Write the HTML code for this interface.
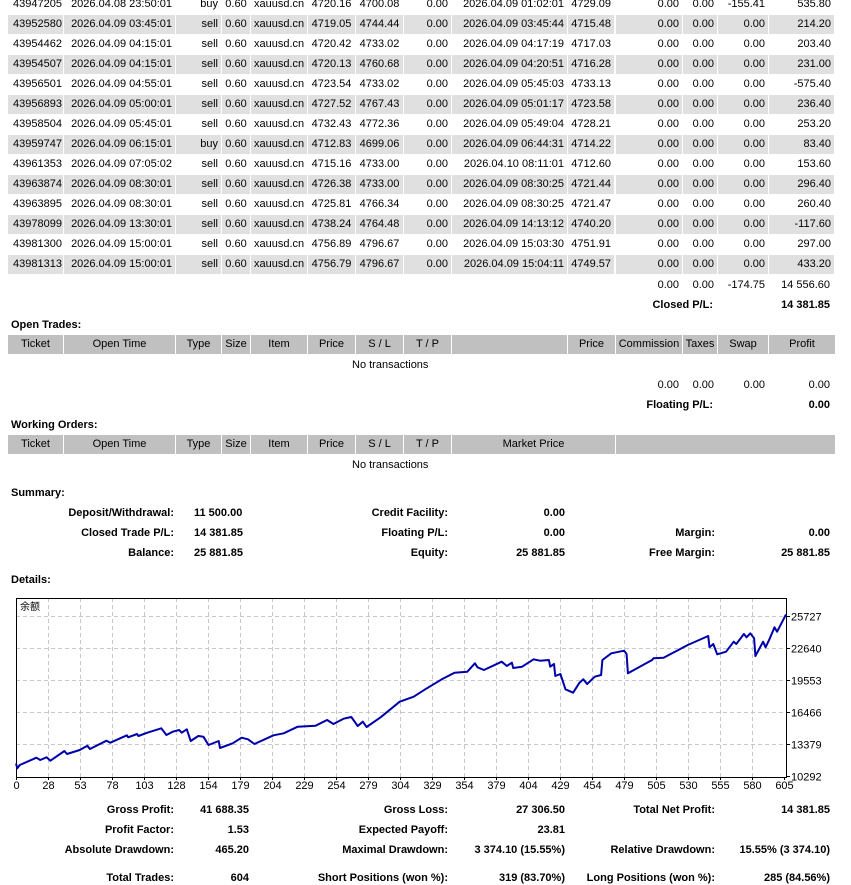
<!DOCTYPE html>
<html><head><meta charset="utf-8">
<style>
*{margin:0;padding:0;box-sizing:border-box}
body{width:851px;height:885px;position:relative;background:#fff;font-family:"Liberation Sans","Noto Sans CJK SC",sans-serif;font-size:11px;color:#000;overflow:hidden}
.t{position:absolute;height:14px;line-height:14px;white-space:nowrap}
.b{font-weight:bold}
.c{position:absolute;height:19px;line-height:19px;white-space:nowrap;overflow:hidden;padding:0 3px}
svg{position:absolute;left:0;top:0}
</style></head><body>
<div id="trades"></div>

<div class="t" style="top:278px;right:172px">0.00</div>
<div class="t" style="top:278px;right:137px">0.00</div>
<div class="t" style="top:278px;right:86px">-174.75</div>
<div class="t" style="top:278px;right:21px">14 556.60</div>
<div class="t b" style="top:298px;right:138px">Closed P/L:</div>
<div class="t b" style="top:298px;right:21px">14 381.85</div>

<div class="t b" style="top:318px;left:11px">Open Trades:</div>
<div id="hdr1"></div>
<div class="t" style="top:358px;left:352px">No transactions</div>
<div class="t" style="top:378px;right:172px">0.00</div>
<div class="t" style="top:378px;right:137px">0.00</div>
<div class="t" style="top:378px;right:86px">0.00</div>
<div class="t" style="top:378px;right:21px">0.00</div>
<div class="t b" style="top:398px;right:138px">Floating P/L:</div>
<div class="t b" style="top:398px;right:21px">0.00</div>

<div class="t b" style="top:418px;left:11px">Working Orders:</div>
<div id="hdr2"></div>
<div class="t" style="top:458px;left:352px">No transactions</div>

<div class="t b" style="top:486px;left:11px">Summary:</div>
<div class="t b" style="top:506px;right:677px">Deposit/Withdrawal:</div>
<div class="t b" style="top:506px;left:194px">11 500.00</div>
<div class="t b" style="top:506px;right:403px">Credit Facility:</div>
<div class="t b" style="top:506px;right:286px">0.00</div>
<div class="t b" style="top:526px;right:677px">Closed Trade P/L:</div>
<div class="t b" style="top:526px;left:194px">14 381.85</div>
<div class="t b" style="top:526px;right:403px">Floating P/L:</div>
<div class="t b" style="top:526px;right:286px">0.00</div>
<div class="t b" style="top:526px;right:136px">Margin:</div>
<div class="t b" style="top:526px;right:21px">0.00</div>
<div class="t b" style="top:546px;right:677px">Balance:</div>
<div class="t b" style="top:546px;left:194px">25 881.85</div>
<div class="t b" style="top:546px;right:403px">Equity:</div>
<div class="t b" style="top:546px;right:286px">25 881.85</div>
<div class="t b" style="top:546px;right:136px">Free Margin:</div>
<div class="t b" style="top:546px;right:21px">25 881.85</div>

<div class="t b" style="top:573px;left:11px">Details:</div>

<div class="t b" style="top:803px;right:677px">Gross Profit:</div>
<div class="t b" style="top:803px;right:602px">41 688.35</div>
<div class="t b" style="top:803px;right:403px">Gross Loss:</div>
<div class="t b" style="top:803px;right:286px">27 306.50</div>
<div class="t b" style="top:803px;right:136px">Total Net Profit:</div>
<div class="t b" style="top:803px;right:21px">14 381.85</div>
<div class="t b" style="top:823px;right:677px">Profit Factor:</div>
<div class="t b" style="top:823px;right:602px">1.53</div>
<div class="t b" style="top:823px;right:403px">Expected Payoff:</div>
<div class="t b" style="top:823px;right:286px">23.81</div>
<div class="t b" style="top:843px;right:677px">Absolute Drawdown:</div>
<div class="t b" style="top:843px;right:602px">465.20</div>
<div class="t b" style="top:843px;right:403px">Maximal Drawdown:</div>
<div class="t b" style="top:843px;right:286px">3 374.10 (15.55%)</div>
<div class="t b" style="top:843px;right:136px">Relative Drawdown:</div>
<div class="t b" style="top:843px;right:21px">15.55% (3 374.10)</div>
<div class="t b" style="top:871px;right:677px">Total Trades:</div>
<div class="t b" style="top:871px;right:602px">604</div>
<div class="t b" style="top:871px;right:403px">Short Positions (won %):</div>
<div class="t b" style="top:871px;right:286px">319 (83.70%)</div>
<div class="t b" style="top:871px;right:136px">Long Positions (won %):</div>
<div class="t b" style="top:871px;right:21px">285 (84.56%)</div>

<svg id="chart" width="851" height="885"></svg>

<script>
// ---- chart data ----
const tradeIndex = [0,1,3,16,19,24,27,38,40,50,56,58,71,74,87,88,95,96,103,114,118,123,128,130,134,137,143,147,151,159,160,170,177,182,187,202,210,221,235,244,249,257,263,268,272,275,286,301,312,321,334,344,354,360,362,367,381,385,389,390,397,406,411,418,419,422,423,427,431,437,442,445,448,454,459,460,467,477,479,480,499,500,508,527,543,544,547,550,557,563,565,571,573,576,579,580,586,588,591,595,597,604];
const balance = [11500,11035,11353,12057,11836,12096,11768,12704,12414,12800,13215,12897,13697,13504,14218,14025,14344,14151,14469,14894,14247,14566,14730,14469,14797,13668,14151,14083,13283,13668,12993,13447,13987,13832,13379,14218,14411,15048,15144,15694,15308,15820,15984,15116,15530,15019,15955,17460,17942,18656,19621,20257,20354,21164,20778,20518,21319,20904,21222,20711,20836,21550,21415,21483,20836,21097,19939,20132,18656,18328,19293,19621,19167,19872,20035,21483,22129,22380,22061,20199,21483,21647,21700,22930,23798,22708,23026,22032,22283,23248,23026,23991,23672,24058,23576,21868,23248,22708,23479,24637,24213,25881];
const yTicks = [10292,13379,16466,19553,22640,25727];
const xTickLabels = ["0","28","53","78","103","128","154","179","204","229","254","279","304","329","354","379","404","429","454","479","505","530","555","580","605"];
const seriesTitle = "余额";

// ---- table data ----
const rows = [
["43947205","2026.04.08 23:50:01","buy","0.60","xauusd.cn","4720.16","4700.08","0.00","2026.04.09 01:02:01","4729.09","0.00","0.00","-155.41","535.80"],
["43952580","2026.04.09 03:45:01","sell","0.60","xauusd.cn","4719.05","4744.44","0.00","2026.04.09 03:45:44","4715.48","0.00","0.00","0.00","214.20"],
["43954462","2026.04.09 04:15:01","sell","0.60","xauusd.cn","4720.42","4733.02","0.00","2026.04.09 04:17:19","4717.03","0.00","0.00","0.00","203.40"],
["43954507","2026.04.09 04:15:01","sell","0.60","xauusd.cn","4720.13","4760.68","0.00","2026.04.09 04:20:51","4716.28","0.00","0.00","0.00","231.00"],
["43956501","2026.04.09 04:55:01","sell","0.60","xauusd.cn","4723.54","4733.02","0.00","2026.04.09 05:45:03","4733.13","0.00","0.00","0.00","-575.40"],
["43956893","2026.04.09 05:00:01","sell","0.60","xauusd.cn","4727.52","4767.43","0.00","2026.04.09 05:01:17","4723.58","0.00","0.00","0.00","236.40"],
["43958504","2026.04.09 05:45:01","sell","0.60","xauusd.cn","4732.43","4772.36","0.00","2026.04.09 05:49:04","4728.21","0.00","0.00","0.00","253.20"],
["43959747","2026.04.09 06:15:01","buy","0.60","xauusd.cn","4712.83","4699.06","0.00","2026.04.09 06:44:31","4714.22","0.00","0.00","0.00","83.40"],
["43961353","2026.04.09 07:05:02","sell","0.60","xauusd.cn","4715.16","4733.00","0.00","2026.04.10 08:11:01","4712.60","0.00","0.00","0.00","153.60"],
["43963874","2026.04.09 08:30:01","sell","0.60","xauusd.cn","4726.38","4733.00","0.00","2026.04.09 08:30:25","4721.44","0.00","0.00","0.00","296.40"],
["43963895","2026.04.09 08:30:01","sell","0.60","xauusd.cn","4725.81","4766.34","0.00","2026.04.09 08:30:25","4721.47","0.00","0.00","0.00","260.40"],
["43978099","2026.04.09 13:30:01","sell","0.60","xauusd.cn","4738.24","4764.48","0.00","2026.04.09 14:13:12","4740.20","0.00","0.00","0.00","-117.60"],
["43981300","2026.04.09 15:00:01","sell","0.60","xauusd.cn","4756.89","4796.67","0.00","2026.04.09 15:03:30","4751.91","0.00","0.00","0.00","297.00"],
["43981313","2026.04.09 15:00:01","sell","0.60","xauusd.cn","4756.79","4796.67","0.00","2026.04.09 15:04:11","4749.57","0.00","0.00","0.00","433.20"]
];
const cols=[[8,63,"left"],[64,175,"right"],[176,221,"right"],[222,250,"center"],[251,307,"center"],[308,355,"center"],[356,403,"center"],[404,451,"right"],[452,567,"right"],[568,614,"right"],[616,682,"right"],[683,717,"right"],[718,768,"right"],[769,834,"right"]];

function cell(parent,l,r,top,txt,align,bg){
  const d=document.createElement('div');
  d.className='c';
  d.style.left=l+'px';d.style.width=(r-l)+'px';d.style.top=top+'px';
  d.style.textAlign=align;
  if(bg)d.style.background=bg;
  d.textContent=txt;
  parent.appendChild(d);
  return d;
}
const tb=document.getElementById('trades');
rows.forEach((row,i)=>{
  const top=-5+20*i;
  row.forEach((v,j)=>{
    const c=cols[j];
    const el=cell(tb,c[0],c[1],top,v,c[2],i%2?'#e0e0e0':null);
    if(j==0)el.style.paddingLeft='5px';
    
    
  });
});
const h1=[[8,63,"Ticket"],[64,175,"Open Time"],[176,221,"Type"],[222,250,"Size"],[251,307,"Item"],[308,355,"Price"],[356,403,"S / L"],[404,451,"T / P"],[452,567,""],[568,615,"Price"],[616,682,"Commission"],[683,717,"Taxes"],[718,768,"Swap"],[769,835,"Profit"]];
const h2=[[8,63,"Ticket"],[64,175,"Open Time"],[176,221,"Type"],[222,250,"Size"],[251,307,"Item"],[308,355,"Price"],[356,403,"S / L"],[404,451,"T / P"],[452,615,"Market Price"],[616,835,""]];
const hd1=document.getElementById('hdr1');
h1.forEach(h=>{
  const el=cell(hd1,h[0],h[1],335,h[2],'center','#c0c0c0');
  el.style.padding='0';
  
  
});
const hd2=document.getElementById('hdr2');
h2.forEach(h=>{
  const el=cell(hd2,h[0],h[1],435,h[2],'center','#c0c0c0');
  el.style.padding='0';
  
  
});

// ---- chart ----
const NS='http://www.w3.org/2000/svg';
const svg=document.getElementById('chart');
const L=16,R=786,T=598,B=777;
const yMin=10292,yMax=25727,yTop=616,yBot=776;
function yScale(v){return yBot-(v-yMin)/(yMax-yMin)*(yBot-yTop);}
function xScale(i){return L+i/604*(R-L);}
function mk(tag,attrs){const e=document.createElementNS(NS,tag);for(const k in attrs)e.setAttribute(k,attrs[k]);svg.appendChild(e);return e;}
yTicks.forEach(v=>{
  const y=Math.round(yScale(v))+0.5;
  if(v!==yMin){
    const g=mk('line',{x1:L,x2:R,y1:y,y2:y,stroke:'#c8c8c8','stroke-dasharray':'4,3'});
    
    
  }
  const tk=mk('line',{x1:R,x2:R+4,y1:y,y2:y,stroke:'#000'});
  
  
  const tx=mk('text',{x:R+5,y:y+4,'font-size':11,'font-family':'Liberation Sans, sans-serif'});
  tx.textContent=v;
  
  
});
xTickLabels.forEach((lab,k)=>{
  const x=L+k*32+0.5;
  if(k>0&&k<24){
    const g=mk('line',{x1:x,x2:x,y1:T,y2:B,stroke:'#c8c8c8','stroke-dasharray':'4,3'});
    
    
  }
  const tk=mk('line',{x1:x,x2:x,y1:B,y2:B+3,stroke:'#000'});
  
  
  const tx=mk('text',{x:x,y:B+12,'font-size':11,'text-anchor':'middle','font-family':'Liberation Sans, sans-serif'});
  tx.textContent=lab;
  
  
});
const frame=mk('rect',{x:L+0.5,y:T+0.5,width:R-L,height:B-T,fill:'none',stroke:'#000'});


let d='';
tradeIndex.forEach((i,k)=>{d+=(k?'L':'M')+xScale(i).toFixed(1)+','+yScale(balance[k]).toFixed(1);});
const line=mk('path',{d:d,fill:'none',stroke:'#0000aa','stroke-width':2,'stroke-linejoin':'round'});


const ttl=mk('text',{x:20,y:610,'font-size':10,'font-family':'Noto Sans CJK SC, sans-serif'});
ttl.textContent=seriesTitle;


</script>
</body></html>
